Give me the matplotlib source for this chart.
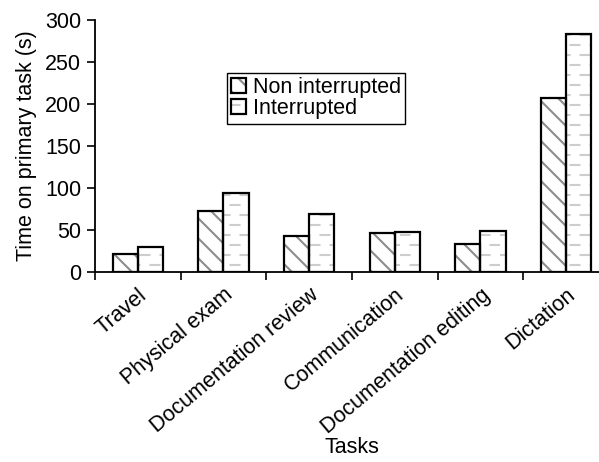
import numpy as np
import matplotlib
matplotlib.use("Agg")
import matplotlib.pyplot as plt
import matplotlib.hatch as mhatch
import matplotlib.transforms as mtransforms
from matplotlib.path import Path
from matplotlib.patches import Rectangle
from matplotlib.legend_handler import HandlerTuple

tasks = ["Travel", "Physical exam", "Documentation review", "Communication",
         "Documentation editing", "Dictation"]
non_interrupted = [22, 73, 43, 46, 33, 207]
interrupted = [30, 94, 69, 48, 49, 283]
series_labels = ["Non interrupted", "Interrupted"]
y_ticks = [0, 50, 100, 150, 200, 250, 300]

# ---- custom hatch textures -------------------------------------------------
_base_get_path = mhatch.get_path


def _dash_tile():
    """Staggered short horizontal dashes in a unit hatch tile."""
    rows, cols, half = 10, 5, 0.045
    verts, codes = [], []
    for i in range(rows):
        y = (i + 0.5) / rows
        shift = 0.25 if i % 2 == 0 else 0.75
        for j in range(cols):
            cx = (j + shift) / cols
            verts += [(cx - half, y), (cx + half, y)]
            codes += [Path.MOVETO, Path.LINETO]
    return Path(np.array(verts), codes)


def _diag_tile(n=5):
    """Sparse top-left to bottom-right diagonals in a unit hatch tile."""
    verts, codes = [], []
    for k in range(1, 2 * n):
        c = k / n
        x0, x1 = max(0.0, c - 1.0), min(1.0, c)
        verts += [(x0, c - x0), (x1, c - x1)]
        codes += [Path.MOVETO, Path.LINETO]
    return Path(np.array(verts), codes)


def _get_path(pattern, density=6):
    if pattern == "-":
        return _dash_tile()
    if pattern == "\\":
        return _diag_tile(5)
    return _base_get_path(pattern, density)


mhatch.get_path = _get_path

plt.rcParams["font.family"] = ["Liberation Sans", "DejaVu Sans"]
plt.rcParams["font.size"] = 15.5
plt.rcParams["hatch.linewidth"] = 1.5

fig = plt.figure(figsize=(5.99, 4.62), dpi=100)
ax = fig.add_axes([95 / 599, 190 / 462, 514 / 599, 252 / 462])

x = np.arange(len(tasks))
w = 0.292
diag_gray = "#8c8c8c"
dash_gray = "#cdcdcd"

# hatched fills
ax.bar(x - w / 2, non_interrupted, w, color="white", edgecolor=diag_gray,
       hatch="\\", linewidth=0, zorder=2)
ax.bar(x + w / 2, interrupted, w, color="white", edgecolor=dash_gray,
       hatch="-", linewidth=0, zorder=2)
# black outlines
ax.bar(x - w / 2, non_interrupted, w, fill=False, edgecolor="black",
       linewidth=1.6, zorder=3)
ax.bar(x + w / 2, interrupted, w, fill=False, edgecolor="black",
       linewidth=1.6, zorder=3)

ax.set_xlim(-0.5, len(tasks) - 0.5)
ax.set_ylim(0, 300)
ax.set_yticks(y_ticks)

ax.set_xticks(x)
ax.set_xticklabels(tasks, rotation=40, ha="right", rotation_mode="anchor")
shift = mtransforms.ScaledTranslation(6 / 100, 0, fig.dpi_scale_trans)
for lab in ax.get_xticklabels():
    lab.set_transform(lab.get_transform() + shift)
ax.set_xticks(np.arange(len(tasks)) - 0.5, minor=True)
ax.tick_params(axis="x", which="major", length=0, pad=9)
ax.tick_params(axis="x", which="minor", length=6, width=1.2, direction="out")
ax.tick_params(axis="y", length=6, width=1.2, direction="out", pad=4)

for side in ("top", "right"):
    ax.spines[side].set_visible(False)
for side in ("left", "bottom"):
    ax.spines[side].set_linewidth(1.3)
    ax.spines[side].set_zorder(4)

ax.set_ylabel("Time on primary task (s)", labelpad=6)
ax.set_xlabel("Tasks")
ax.xaxis.set_label_coords(0.5, -0.655)

h_ni = (Rectangle((0, 0), 1, 1, facecolor="white", edgecolor=diag_gray,
                  hatch="\\", linewidth=0),
        Rectangle((0, 0), 1, 1, fill=False, edgecolor="black", linewidth=1.6))
h_in = (Rectangle((0, 0), 1, 1, facecolor="white", edgecolor=dash_gray,
                  hatch="-", linewidth=0),
        Rectangle((0, 0), 1, 1, fill=False, edgecolor="black", linewidth=1.6))
leg = ax.legend([h_ni, h_in], series_labels,
                handler_map={tuple: HandlerTuple(ndivide=1)},
                loc="upper left", bbox_to_anchor=(0.257, 0.79),
                borderaxespad=0, fancybox=False, framealpha=1,
                edgecolor="black", handlelength=0.7, handleheight=0.7,
                handletextpad=0.3, labelspacing=0.0, borderpad=0.2)
leg.get_frame().set_linewidth(1.0)

fig.savefig("out.png", dpi=100)
